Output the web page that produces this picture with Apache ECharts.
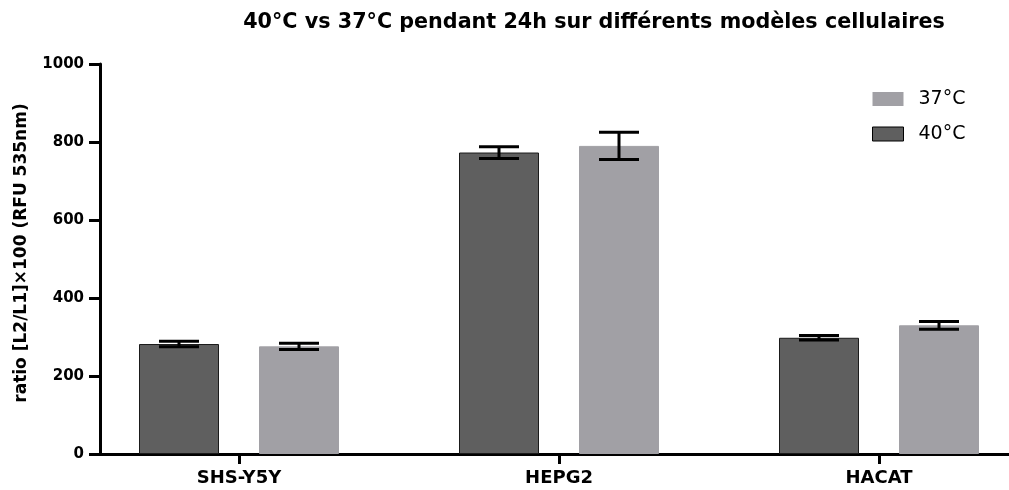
<!DOCTYPE html>
<html>
<head>
<meta charset="utf-8">
<script src="https://cdn.jsdelivr.net/npm/echarts@6/dist/echarts.min.js"></script>
<style>
  html, body { margin: 0; padding: 0; background: #fff; }
  #chart { width: 1009px; height: 490px; }
</style>
</head>
<body>
<div id="chart"></div>
<script>
// Cell lines and measured ratios (mean and error) at each temperature
const categories = ['SHS-Y5Y', 'HEPG2', 'HACAT'];
const mean40 = [282, 773, 298];
const err40 = [7, 15, 6];
const mean37 = [276, 790, 330];
const err37 = [8, 35, 10];
const yTicks = [0, 200, 400, 600, 800, 1000];

const BAR_W = 80;
const BAR_GAP = 40;
const FONT = '"DejaVu Sans", Verdana, sans-serif';

// Error bars: a stem plus two caps, placed over the bar of the given series
function errorSeries(name, means, errs, side) {
  return {
    type: 'custom',
    name: name + ' err',
    xAxisIndex: 0,
    yAxisIndex: 0,
    z: 5,
    silent: true,
    data: means.map((m, i) => [i, m - errs[i], m + errs[i]]),
    renderItem: function (params, api) {
      const lo = api.coord([api.value(0), api.value(1)]);
      const hi = api.coord([api.value(0), api.value(2)]);
      const x = lo[0] + side * (BAR_W + BAR_GAP) / 2;
      const half = BAR_W / 4;
      const style = { stroke: '#000', lineWidth: 3 };
      return {
        type: 'group',
        children: [
          { type: 'line', shape: { x1: x, y1: lo[1], x2: x, y2: hi[1] }, style },
          { type: 'line', shape: { x1: x - half, y1: lo[1], x2: x + half, y2: lo[1] }, style },
          { type: 'line', shape: { x1: x - half, y1: hi[1], x2: x + half, y2: hi[1] }, style }
        ]
      };
    }
  };
}

const chart = echarts.init(document.getElementById('chart'), null, { renderer: 'canvas' });

chart.setOption({
  animation: false,
  backgroundColor: '#fff',
  textStyle: { fontFamily: FONT },
  title: {
    text: '40°C vs 37°C pendant 24h sur différents modèles cellulaires',
    left: 589,
    textAlign: 'center',
    top: 7,
    textStyle: { fontFamily: FONT, fontSize: 20.7, fontWeight: 'bold', color: '#000' }
  },
  legend: {
    orient: 'vertical',
    left: 872,
    top: 89,
    padding: 0,
    icon: 'rect',
    itemWidth: 31,
    itemHeight: 14,
    itemGap: 15,
    data: [
      { name: '37°C', itemStyle: { borderWidth: 0 } },
      { name: '40°C', itemStyle: { borderColor: '#000', borderWidth: 1 } }
    ],
    textStyle: { fontFamily: FONT, fontSize: 19, lineHeight: 20, color: '#000', padding: [0, 0, 0, 10] }
  },
  grid: [
    // bars live in a grid whose category bands are centred on the ticks;
    // it runs past the right edge, so outer bounds must not squeeze it
    { left: 79, width: 960, top: 64, bottom: 36, outerBoundsMode: 'none', containLabel: false },
    // visible axis frame starting at the y axis
    { left: 100, right: 0, top: 64, bottom: 36 }
  ],
  xAxis: [
    {
      type: 'category',
      gridIndex: 0,
      data: categories,
      axisLine: { show: false },
      axisTick: { show: true, alignWithLabel: true, length: 10, lineStyle: { color: '#000', width: 3 } },
      axisLabel: { fontFamily: FONT, fontSize: 18, fontWeight: 'bold', color: '#000', margin: 15 }
    },
    {
      type: 'value',
      gridIndex: 1,
      min: 0,
      max: 1,
      axisLine: { show: true, onZero: false, lineStyle: { color: '#000', width: 3 } },
      axisTick: { show: false },
      axisLabel: { show: false },
      splitLine: { show: false }
    }
  ],
  yAxis: [
    {
      type: 'value',
      gridIndex: 0,
      min: 0,
      max: 1000,
      interval: 200,
      show: false,
      splitLine: { show: false }
    },
    {
      type: 'value',
      gridIndex: 1,
      min: yTicks[0],
      max: yTicks[yTicks.length - 1],
      interval: 200,
      name: 'ratio [L2/L1]×100 (RFU 535nm)',
      nameLocation: 'middle',
      nameGap: 70,
      nameTextStyle: { fontFamily: FONT, fontSize: 17, fontWeight: 'bold', color: '#000', padding: [0, 0, 0, 12] },
      axisLine: { show: true, lineStyle: { color: '#000', width: 3 } },
      axisTick: { show: true, length: 11, lineStyle: { color: '#000', width: 3 } },
      axisLabel: {
        fontFamily: FONT, fontSize: 15, fontWeight: 'bold', color: '#000', margin: 16,
        formatter: v => String(v)
      },
      splitLine: { show: false }
    }
  ],
  series: [
    {
      name: '40°C',
      type: 'bar',
      xAxisIndex: 0,
      yAxisIndex: 0,
      data: mean40,
      barWidth: BAR_W,
      barGap: (BAR_GAP / BAR_W * 100) + '%',
      itemStyle: { color: '#5f5f5f', borderColor: '#1a1a1a', borderWidth: 1 }
    },
    {
      name: '37°C',
      type: 'bar',
      xAxisIndex: 0,
      yAxisIndex: 0,
      data: mean37,
      barWidth: BAR_W,
      barGap: (BAR_GAP / BAR_W * 100) + '%',
      itemStyle: { color: '#a1a0a5', borderColor: '#a1a0a5', borderWidth: 1 }
    },
    errorSeries('40°C', mean40, err40, -1),
    errorSeries('37°C', mean37, err37, 1)
  ]
});
</script>
</body>
</html>
